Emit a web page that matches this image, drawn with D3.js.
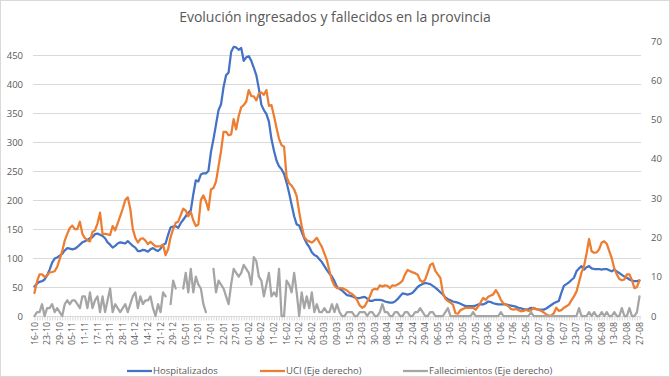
<!DOCTYPE html>
<html>
<head>
<meta charset="utf-8">
<script src="https://cdn.jsdelivr.net/npm/d3@7"></script>
<style>
  body { margin: 0; background: #fff; }
  svg { display: block; font-family: "Open Sans", sans-serif; }
</style>
</head>
<body>
<svg width="670" height="377"></svg>
<script>
// etiquetas del eje X (una cada 5 días de datos)
var tickLabels = ["16-10","23-10","29-10","05-11","11-11","17-11","23-11","28-11","04-12","14-12",
  "21-12","29-12","05-01","12-01","17-01","22-01","27-01","01-02","06-02","11-02",
  "16-02","21-02","26-02","03-03","09-03","15-03","23-03","30-03","08-04","15-04",
  "22-04","29-04","06-05","13-05","20-05","27-05","03-06","10-06","17-06","25-06",
  "02-07","09-07","16-07","23-07","30-07","06-08","13-08","20-08","27-08"];
var labelEvery = 5;

var leftTicks = [0, 50, 100, 150, 200, 250, 300, 350, 400, 450];
var rightTicks = [0, 10, 20, 30, 40, 50, 60, 70];

// Hospitalizados (eje izquierdo)
var hospitalizados = [51,56,59,60,63,70,80,92,99,101,104,107,113,117,116,115,116,119,123,127,
  129,131,134,136,141,142,140,138,134,127,123,118,121,125,127,126,125,129,125,121,
  118,112,112,114,113,111,115,117,114,112,116,123,125,140,153,154,155,152,160,166,
  172,178,182,210,234,232,244,246,246,250,283,305,330,355,365,395,415,420,455,464,
  463,459,462,440,446,448,440,428,415,392,364,355,348,335,305,285,268,258,253,245,
  230,212,192,172,158,156,145,134,125,119,110,105,103,98,93,86,79,73,68,60,
  50,47,44,40,36,35,34,32,31,31,32,33,30,26,26,28,28,28,27,25,
  24,23,23,25,29,34,39,38,37,38,40,45,50,53,55,57,56,55,52,49,
  45,41,37,32,29,27,25,24,23,21,19,17,17,17,17,18,20,20,20,22,
  25,24,22,21,20,20,20,20,19,18,17,16,14,13,12,11,12,14,13,12,
  11,11,11,13,16,19,22,24,26,40,52,55,58,62,66,77,82,86,80,84,
  86,82,81,81,81,80,81,81,79,77,80,77,74,71,68,66,63,61,60,60,61];

// UCI (eje derecho)
var uci = [5.9,8.8,10.6,10.6,9.9,10.3,11.1,11.2,11.4,12.5,14.5,16.5,19.2,20.9,22.4,23.0,22.1,22.1,24.0,20.9,
  19.8,19.3,19.0,21.4,21.8,23.6,26.3,20.9,20.9,20.8,20.6,22.9,21.8,23.6,25.4,27.3,29.5,30.2,27.3,22.1,
  19.9,18.7,19.6,19.8,19.2,18.3,18.9,18.3,17.7,17.7,17.8,18.1,15.5,17.0,20.1,22.1,23.7,24.0,25.7,27.3,
  26.8,25.4,26.5,24.3,22.9,23.3,29.5,30.7,29.2,27.0,32.2,32.6,34.2,38.1,42.0,46.9,46.9,46.0,46.2,50.1,
  47.5,50.9,53.1,53.7,54.6,57.5,56.0,55.9,54.9,56.6,56.9,56.3,57.5,53.5,53.7,50.9,47.9,45.1,43.5,43.1,
  35.4,33.8,33.2,32.2,30.5,26.5,22.9,20.1,19.3,19.0,18.7,19.2,19.9,18.7,17.6,15.9,14.2,11.5,9.1,7.7,
  7.1,7.1,7.1,6.8,6.5,5.9,5.6,5.0,4.0,2.7,2.1,2.5,3.7,4.9,6.6,6.9,6.8,7.8,7.5,7.8,
  7.7,7.1,7.8,7.7,8.0,8.4,9.0,10.6,11.7,11.4,11.1,10.9,10.5,9.1,8.6,9.3,11.1,13.0,13.4,11.5,
  10.6,9.7,5.9,4.4,3.8,3.4,2.9,0.7,0.6,1.5,1.8,2.1,2.1,2.1,2.1,1.6,2.4,3.5,4.6,4.1,
  4.9,5.2,5.5,6.6,5.6,4.1,3.2,2.9,2.5,1.8,1.6,1.8,1.5,1.2,1.3,1.6,1.3,1.5,2.1,1.8,
  1.6,1.3,0.9,0.4,0.1,0.1,0.7,2.1,1.3,1.5,2.1,2.5,2.9,4.0,5.0,6.2,8.6,11.1,12.7,15.9,
  19.6,16.5,16.1,16.2,17.0,18.7,19.0,18.4,16.5,14.7,12.1,10.6,9.4,9.1,9.3,10.6,10.6,9.1,7.1,7.4,9.1];

// Fallecimientos (eje derecho), null = sin dato
var fallecimientos = [0,1,1,3,0,2,2,3,1,2,1,0,3,4,3,4,4,3,2,5,
  5,2,6,2,4,5,1,5,1,4,7,1,3,2,1,2,3,1,3,5,
  6,2,5,3,4,4,5,2,0,3,1,6,5,null,3,9,7,null,null,7,
  11,6,12,6,10,8,7,3,1,null,null,12,6,9,8,7,5,3,8,12,
  11,10,11,13,12,11,8,15,14,10,9,5,8,11,5,6,5,12,0,0,
  9,8,6,11,6,0,6,2,5,2,6,1,3,1,1,2,1,1,3,1,
  3,1,0,0,1,1,1,0,0,1,1,1,0,1,1,0,0,1,3,1,
  1,0,0,1,1,0,0,1,1,0,0,1,1,2,1,0,0,1,1,0,
  0,0,0,1,2,0,0,0,0,0,0,0,0,0,1,0,0,0,0,0,
  0,0,0,0,0,1,0,0,0,0,0,0,0,0,0,0,0,1,0,0,
  0,0,0,0,0,0,0,0,0,0,0,0,0,0,0,0,2,0,0,0,
  1,0,1,0,0,1,0,1,0,0,1,0,0,2,0,0,2,0,0,1,5];

var width = 670, height = 377;
var textColor = "#595959";

var svg = d3.select("svg");

svg.append("rect")
  .attr("x", 0.5).attr("y", 0.5)
  .attr("width", width - 1).attr("height", height - 1)
  .attr("fill", "#fff")
  .attr("stroke", "#d9d9d9");

var plotLeft = 33, plotRight = 641, plotTop = 41, plotBottom = 316;

var x = d3.scaleLinear()
  .domain([0, hospitalizados.length - 1])
  .range([34.5, 639.5]);

var yLeft = d3.scaleLinear()
  .domain([0, 450 * (plotBottom - plotTop) / 261])
  .range([plotBottom, plotTop]);

var yRight = d3.scaleLinear()
  .domain([0, 70])
  .range([plotBottom, plotTop]);

// rejilla
svg.append("g")
  .selectAll("line")
  .data(leftTicks.filter(d => d > 0))
  .enter().append("line")
  .attr("x1", plotLeft).attr("x2", plotRight)
  .attr("y1", d => Math.round(yLeft(d)) + 0.5)
  .attr("y2", d => Math.round(yLeft(d)) + 0.5)
  .attr("stroke", "#d9d9d9")
  .attr("stroke-width", 1);

// eje X
var xAxis = d3.axisBottom(x)
  .tickValues(d3.range(hospitalizados.length))
  .tickSize(4)
  .tickFormat("");

var gx = svg.append("g")
  .attr("transform", "translate(0," + (plotBottom + 0.5) + ")")
  .call(xAxis);
gx.select(".domain").attr("stroke", "#d9d9d9").attr("d", "M" + plotLeft + ",0H" + plotRight);
gx.selectAll(".tick line").attr("stroke", "#d9d9d9");

svg.append("g")
  .selectAll("text")
  .data(tickLabels)
  .enter().append("text")
  .attr("transform", (d, i) => "translate(" + (x(i * labelEvery) + 3) + "," + (plotBottom + 6) + ") rotate(-90)")
  .attr("text-anchor", "end")
  .style("font-size", "8.8px")
  .attr("fill", textColor)
  .text(d => d);

// ejes Y
var gl = svg.append("g")
  .attr("transform", "translate(23,0)")
  .call(d3.axisLeft(yLeft).tickValues(leftTicks).tickSize(0).tickPadding(0));
gl.select(".domain").remove();
gl.selectAll("text").style("font-size", "9.5px").style("font-family", "'Open Sans', sans-serif").attr("fill", textColor);

var gr = svg.append("g")
  .attr("transform", "translate(651,0)")
  .call(d3.axisRight(yRight).tickValues(rightTicks).tickSize(0).tickPadding(0));
gr.select(".domain").remove();
gr.selectAll("text").style("font-size", "9.5px").style("font-family", "'Open Sans', sans-serif").attr("fill", textColor);

// series
var series = [
  {name: "Hospitalizados", values: hospitalizados, scale: yLeft, color: "#4472C4"},
  {name: "UCI (Eje derecho)", values: uci, scale: yRight, color: "#ED7D31"},
  {name: "Fallecimientos (Eje derecho)", values: fallecimientos, scale: yRight, color: "#A5A5A5"}
];

series.forEach(function (s) {
  var line = d3.line()
    .defined(d => d !== null)
    .x((d, i) => x(i))
    .y(d => s.scale(d));
  svg.append("path")
    .datum(s.values)
    .attr("d", line)
    .attr("fill", "none")
    .attr("stroke", s.color)
    .attr("stroke-width", 2.25)
    .attr("stroke-linejoin", "round")
    .attr("stroke-linecap", "round");
});

// título
svg.append("text")
  .attr("x", width / 2)
  .attr("y", 22)
  .attr("text-anchor", "middle")
  .style("font-size", "14px")
  .attr("fill", textColor)
  .text("Evolución ingresados y fallecidos en la provincia");

// leyenda
var legendX = [127, 260, 403];
var legend = svg.append("g")
  .selectAll("g")
  .data(series)
  .enter().append("g")
  .attr("transform", (d, i) => "translate(" + legendX[i] + ",371)");

legend.append("line")
  .attr("x1", 0).attr("x2", 25)
  .attr("stroke", d => d.color)
  .attr("stroke-width", 2.25);

legend.append("text")
  .attr("x", 26)
  .attr("dy", "0.35em")
  .style("font-size", "9.5px")
  .attr("fill", textColor)
  .text(d => d.name);
</script>
</body>
</html>
